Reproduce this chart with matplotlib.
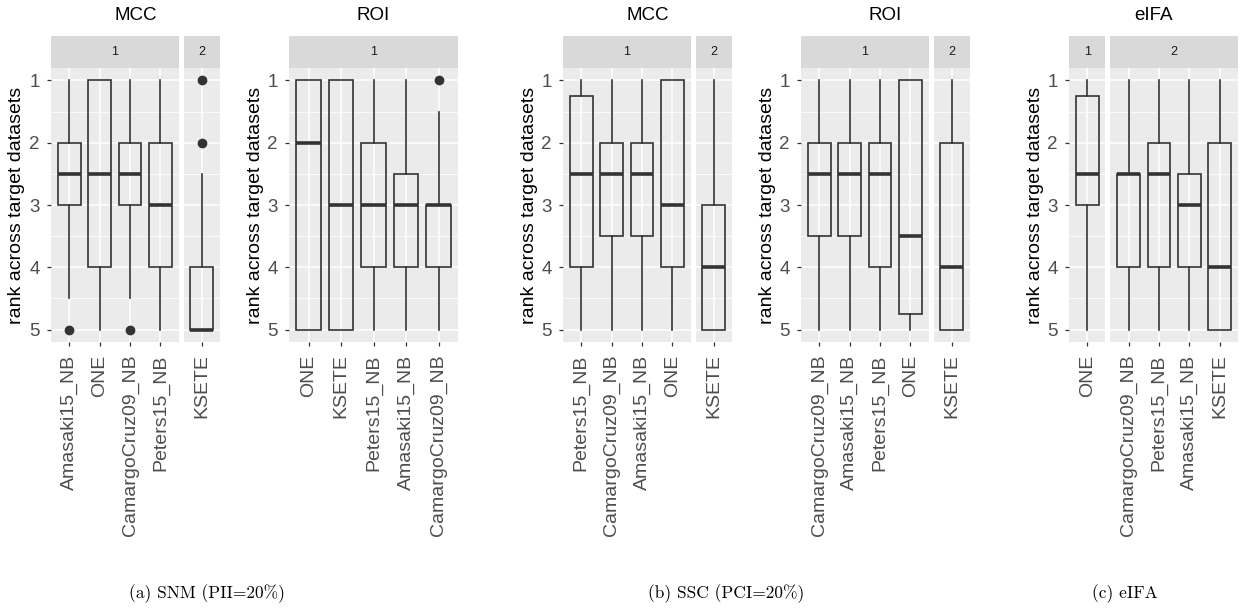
import matplotlib
matplotlib.use("Agg")
import matplotlib.pyplot as plt

plt.rcParams['font.family'] = ['Liberation Sans', 'DejaVu Sans']

# five-number summaries per box: (lower whisker, q1, median, q3, upper whisker)
# rank axis: 1 = best (top)

# (a) SNM - MCC
snm_mcc_cats = ["Amasaki15_NB", "ONE", "CamargoCruz09_NB", "Peters15_NB", "KSETE"]
snm_mcc_group = [1, 1, 1, 1, 2]
snm_mcc_box = [(1, 2, 2.5, 3, 4.5), (1, 1, 2.5, 4, 5), (1, 2, 2.5, 3, 4.5),
               (1, 2, 3, 4, 5), (2.5, 4, 5, 5, 5)]
snm_mcc_out = [[5], [], [5], [], [1, 2]]

# (a) SNM - ROI
snm_roi_cats = ["ONE", "KSETE", "Peters15_NB", "Amasaki15_NB", "CamargoCruz09_NB"]
snm_roi_group = [1, 1, 1, 1, 1]
snm_roi_box = [(1, 1, 2, 5, 5), (1, 1, 3, 5, 5), (1, 2, 3, 4, 5),
               (1, 2.5, 3, 4, 5), (1.5, 3, 3, 4, 5)]
snm_roi_out = [[], [], [], [], [1]]

# (b) SSC - MCC
ssc_mcc_cats = ["Peters15_NB", "CamargoCruz09_NB", "Amasaki15_NB", "ONE", "KSETE"]
ssc_mcc_group = [1, 1, 1, 1, 2]
ssc_mcc_box = [(1, 1.25, 2.5, 4, 5), (1, 2, 2.5, 3.5, 5), (1, 2, 2.5, 3.5, 5),
               (1, 1, 3, 4, 5), (1, 3, 4, 5, 5)]
ssc_mcc_out = [[], [], [], [], []]

# (b) SSC - ROI
ssc_roi_cats = ["CamargoCruz09_NB", "Amasaki15_NB", "Peters15_NB", "ONE", "KSETE"]
ssc_roi_group = [1, 1, 1, 1, 2]
ssc_roi_box = [(1, 2, 2.5, 3.5, 5), (1, 2, 2.5, 3.5, 5), (1, 2, 2.5, 4, 5),
               (1, 1, 3.5, 4.75, 5), (1, 2, 4, 5, 5)]
ssc_roi_out = [[], [], [], [], []]

# (c) eIFA
eifa_cats = ["ONE", "CamargoCruz09_NB", "Peters15_NB", "Amasaki15_NB", "KSETE"]
eifa_group = [1, 2, 2, 2, 2]
eifa_box = [(1, 1.25, 2.5, 3, 5), (1, 2.5, 2.5, 4, 5), (1, 2, 2.5, 4, 5),
            (1, 2.5, 3, 4, 5), (1, 2, 4, 5, 5)]
eifa_out = [[], [], [], [], []]

captions = ['(a) SNM (PII=20%)', '(b) SSC (PCI=20%)', '(c) eIFA']

W, H = 1243, 613
fig = plt.figure(figsize=(W / 100, H / 100), dpi=100)


def px_axes(x0, y0, x1, y1):
    return fig.add_axes([x0 / W, 1 - y1 / H, (x1 - x0) / W, (y1 - y0) / H])


panels = [
    ("MCC", snm_mcc_cats, snm_mcc_group, snm_mcc_box, snm_mcc_out, 51),
    ("ROI", snm_roi_cats, snm_roi_group, snm_roi_box, snm_roi_out, 289),
    ("MCC", ssc_mcc_cats, ssc_mcc_group, ssc_mcc_box, ssc_mcc_out, 563),
    ("ROI", ssc_roi_cats, ssc_roi_group, ssc_roi_box, ssc_roi_out, 801),
    ("eIFA", eifa_cats, eifa_group, eifa_box, eifa_out, 1069),
]

dark = '#333333'
pw, gap = 169, 5
top, strip_top, bottom = 68, 36, 342

for title, cats, groups, box, out, left in panels:
    gids = sorted(set(groups))
    units = [groups.count(g) + 0.2 for g in gids]
    usable = pw - gap * (len(gids) - 1)
    x = left
    for i, g in enumerate(gids):
        w = usable * units[i] / sum(units)
        idx = [k for k in range(len(cats)) if groups[k] == g]
        ax = px_axes(x, top, x + w, bottom)
        st = px_axes(x, strip_top, x + w, top)
        st.set_facecolor('#D9D9D9')
        st.set_xticks([])
        st.set_yticks([])
        for s in st.spines.values():
            s.set_visible(False)
        st.text(0.5, 0.5, str(g), transform=st.transAxes, ha='center', va='center',
                fontsize=9, color='#1A1A1A')

        stats = []
        for k in idx:
            lo, q1, med, q3, hi = box[k]
            stats.append(dict(whislo=lo, q1=q1, med=med, q3=q3, whishi=hi, fliers=out[k]))
        pos = list(range(1, len(idx) + 1))
        ax.set_facecolor('#EBEBEB')
        ax.set_axisbelow(True)
        ax.bxp(stats, positions=pos, widths=0.75, showcaps=False, patch_artist=True,
               boxprops=dict(facecolor='none', edgecolor=dark, linewidth=1.2),
               whiskerprops=dict(color=dark, linewidth=1.2),
               medianprops=dict(color=dark, linewidth=2.6, solid_capstyle='butt'),
               flierprops=dict(marker='o', markerfacecolor=dark, markeredgecolor=dark,
                               markersize=6))
        ax.set_xlim(0.4, len(idx) + 0.6)
        ax.set_ylim(5.2, 0.8)
        ax.set_yticks([1, 2, 3, 4, 5])
        ax.set_yticks([1.5, 2.5, 3.5, 4.5], minor=True)
        ax.set_xticks(pos)
        ax.set_xticklabels([cats[k] for k in idx], rotation=90, ha='center', va='top')
        ax.grid(which='major', color='white', linewidth=1.1)
        ax.grid(which='minor', axis='y', color='white', linewidth=0.55)
        ax.tick_params(which='minor', length=0)
        ax.tick_params(which='major', length=3, width=0.9, color=dark,
                       labelcolor='#4D4D4D')
        ax.tick_params(axis='x', pad=6, labelsize=14)
        ax.tick_params(axis='y', pad=5, labelsize=13.5)
        for s in ax.spines.values():
            s.set_visible(False)
        if i > 0:
            ax.tick_params(axis='y', length=0, labelleft=False)
        x += w + gap

    fig.text((left + pw / 2) / W, 1 - 15 / H, title, ha='center', va='center',
             fontsize=13.5, color='black')
    fig.text((left - 34) / W, 1 - 205 / H, 'rank across target datasets', rotation=90,
             ha='center', va='center', fontsize=14, color='black')

for cap, cx in zip(captions, [207, 726, 1125]):
    fig.text(cx / W, 1 - 598 / H, cap, ha='center', va='baseline', fontsize=12.5,
             family='cmr10')

fig.savefig('out.png', dpi=100)
